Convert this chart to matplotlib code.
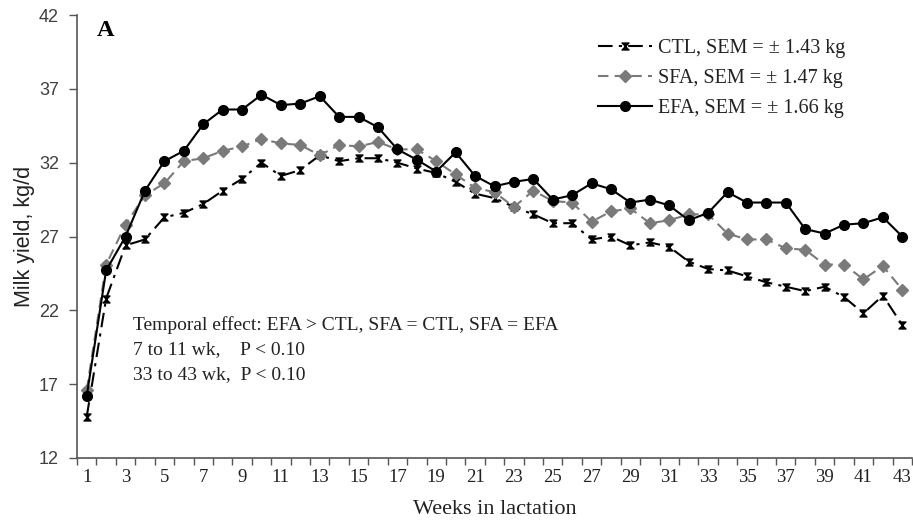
import matplotlib
matplotlib.use("Agg")
import matplotlib.pyplot as plt
from matplotlib.path import Path
import numpy as np

plt.rcParams['font.family'] = ['Liberation Serif', 'DejaVu Serif']

weeks = list(range(1, 44))
ctl = [14.8, 22.8, 26.4, 26.8, 28.3, 28.6, 29.2, 30.1, 30.9, 32.0,
       31.1, 31.5, 32.5, 32.1, 32.3, 32.3, 32.0, 31.6, 31.3, 30.7,
       29.9, 29.6, 29.0, 28.5, 27.9, 27.9, 26.8, 27.0, 26.4, 26.6,
       26.3, 25.3, 24.8, 24.7, 24.3, 23.9, 23.6, 23.3, 23.6, 22.9,
       21.8, 23.0, 21.0]
sfa = [16.6, 25.1, 27.8, 29.8, 30.6, 32.1, 32.3, 32.8, 33.1, 33.6,
       33.3, 33.2, 32.5, 33.2, 33.1, 33.4, 32.9, 32.9, 32.1, 31.2,
       30.3, 30.0, 29.0, 30.1, 29.4, 29.3, 28.0, 28.7, 28.9, 27.9,
       28.1, 28.5, 28.5, 27.2, 26.8, 26.8, 26.2, 26.1, 25.1, 25.1,
       24.1, 25.0, 23.4]
efa = [16.2, 24.7, 27.0, 30.1, 32.1, 32.8, 34.6, 35.6, 35.6, 36.6,
       35.9, 36.0, 36.5, 35.1, 35.1, 34.4, 32.9, 32.2, 31.4, 32.7,
       31.1, 30.4, 30.7, 30.9, 29.5, 29.8, 30.6, 30.2, 29.3, 29.5,
       29.1, 28.1, 28.6, 30.0, 29.3, 29.3, 29.3, 27.5, 27.2, 27.8,
       27.9, 28.3, 27.0]
labels = ["CTL, SEM = ± 1.43 kg", "SFA, SEM = ± 1.47 kg", "EFA, SEM = ± 1.66 kg"]
yticks = [12, 17, 22, 27, 32, 37, 42]
xticklabels = [str(w) for w in weeks[::2]]
notes = ["Temporal effect: EFA > CTL, SFA = CTL, SFA = EFA",
         "7 to 11 wk,    P < 0.10",
         "33 to 43 wk,  P < 0.10"]

hourglass = Path([(-1, 1), (1, 1), (-1, -1), (1, -1), (-1, 1)],
                 [Path.MOVETO, Path.LINETO, Path.LINETO, Path.LINETO, Path.CLOSEPOLY])

W, H = 913, 522
fig = plt.figure(figsize=(W / 100, H / 100), dpi=100)
ax = fig.add_axes([77 / W, 1 - 458 / H, (912 - 77) / W, (458 - 15) / H])

ax.plot(weeks, ctl, color='black', lw=1.5, linestyle=(0, (7, 3, 1.5, 3)),
        marker=hourglass, markersize=5, label=labels[0], zorder=3)
ax.plot(weeks, sfa, color='#7a7a7a', lw=1.5, linestyle=(0, (5, 3)),
        marker='D', markersize=6, markeredgecolor='#7a7a7a', label=labels[1], zorder=4)
ax.plot(weeks, efa, color='black', lw=1.5, linestyle='-',
        marker='o', markersize=7, label=labels[2], zorder=5)

ax.set_xlim(0.5, 43.5)
ax.set_ylim(12, 42)
ax.set_yticks(yticks)
ax.set_xticks(weeks[::2])
ax.set_xticklabels(xticklabels)
ax.set_xticks(np.arange(0.5, 44, 1), minor=True)
ax.tick_params(axis='x', which='major', length=0, labelsize=13.5, pad=8, colors='#222222')
ax.tick_params(axis='x', which='minor', length=5, width=1, color='#555555', direction='out')
ax.tick_params(axis='y', length=6, width=1, color='#555555', labelsize=13, labelcolor='#404040',
               pad=7)
for lab in ax.get_yticklabels():
    lab.set_family(['Liberation Sans', 'DejaVu Sans'])
for s in ['top', 'right']:
    ax.spines[s].set_visible(False)
for s in ['left', 'bottom']:
    ax.spines[s].set_color('#555555')
    ax.spines[s].set_linewidth(1.2)

ax.set_xlabel("Weeks in lactation", fontsize=16, color='#222222', labelpad=10)
ax.set_ylabel("Milk yield, kg/d", fontsize=15.5, color='#222222', labelpad=3,
              family=['Liberation Sans', 'DejaVu Sans'])

fig.text(97 / W, 1 - 30 / H, "A", fontsize=17.5, fontweight='bold', va='center', ha='left')
ys = [325, 350, 375]
for t, y in zip(notes, ys):
    fig.text(133 / W, 1 - y / H, t, fontsize=14, va='center', ha='left', color='#222222')

leg = ax.legend(loc='upper left', bbox_to_anchor=(598 / W, 1 - 39 / H),
                bbox_transform=fig.transFigure, frameon=False, borderpad=0, borderaxespad=0,
                fontsize=14.5, handlelength=2.7, handletextpad=0.3, labelspacing=0.55,
                labelcolor='#222222')

fig.savefig("out.png", dpi=100)
